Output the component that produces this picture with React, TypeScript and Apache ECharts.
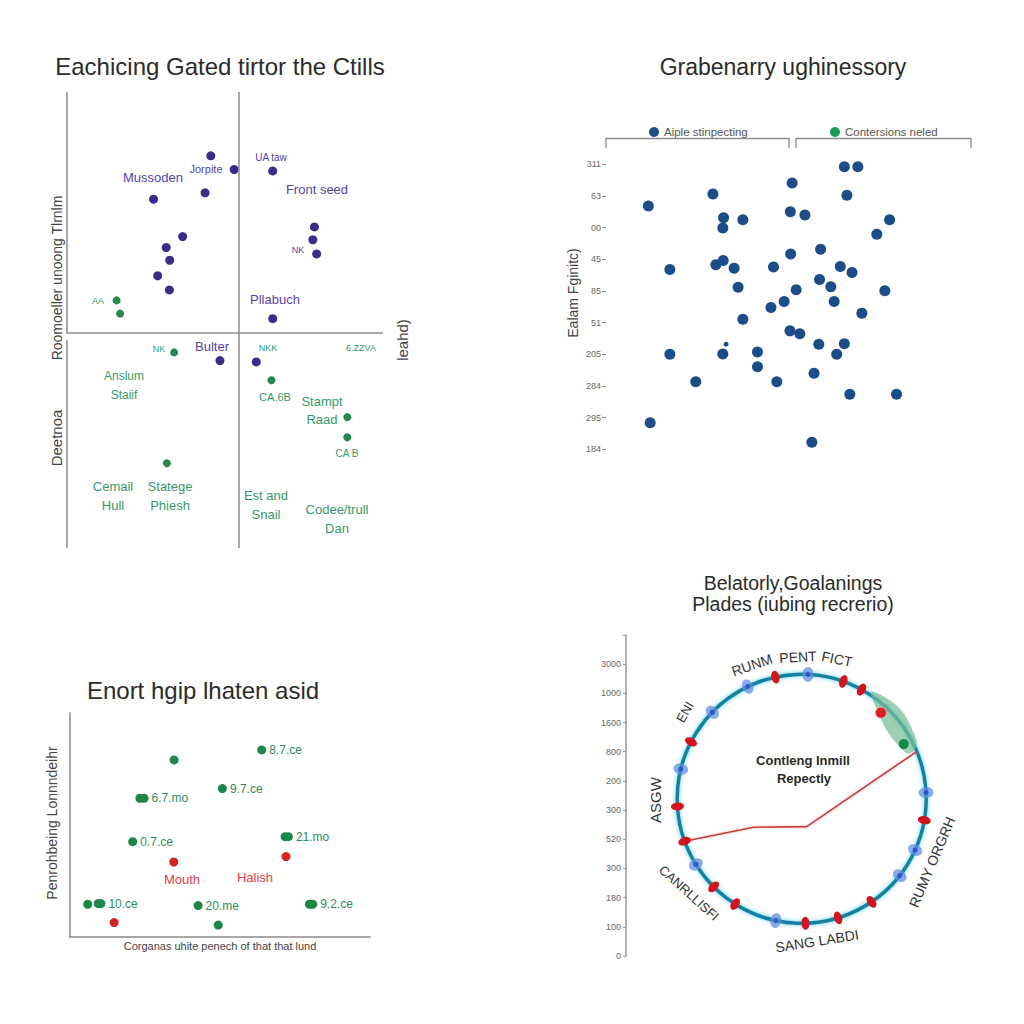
import React, { useEffect, useRef } from "react";
import * as echarts from "echarts";

const FONT = "'Liberation Sans', Arial, Helvetica, sans-serif";

// ---------- Panel 1 (top-left quadrant scatter) ----------
const P1_PURPLE: number[][] = [
  [45.5, 86.0], [52.9, 83.0], [65.1, 82.7], [43.7, 77.9], [27.4, 76.5],
  [36.6, 68.3], [31.4, 65.9], [32.5, 63.1], [28.7, 59.7], [32.4, 56.6],
  [78.3, 70.4], [77.8, 67.6], [79.0, 64.5], [65.1, 50.3], [48.4, 41.1], [59.9, 40.8],
];
const P1_GREEN: number[][] = [
  [15.7, 54.3], [16.8, 51.4], [33.9, 42.9], [64.7, 36.8], [88.7, 28.7], [88.7, 24.3], [31.6, 18.6],
];
const P1_QUAD_X = 54.4;
const P1_QUAD_Y = 47.1;
const P1_GAP_Y = 45.6;

// ---------- Panel 2 (top-right scatter) ----------
const P2_Y_LABELS = ["184", "295", "284", "205", "51", "85", "45", "00", "63", "311"];
const P2_POINTS: number[][] = [
  [11.6, 7.68], [29.3, 8.06], [32.2, 7.31], [32.0, 6.99], [37.5, 7.25], [51.0, 8.41], [65.3, 8.92],
  [69.0, 8.92], [66.0, 8.02], [50.5, 7.5], [54.5, 7.4], [77.7, 7.25], [74.2, 6.79],
  [17.5, 5.68], [30.1, 5.83], [32.1, 5.96], [35.1, 5.72], [45.9, 5.76], [50.6, 6.17], [58.8, 6.32],
  [64.2, 5.77], [67.4, 5.58], [36.2, 5.12], [52.1, 5.04], [58.5, 5.36], [61.6, 5.13], [76.4, 5.01],
  [48.8, 4.67], [45.2, 4.48], [62.5, 4.67], [37.5, 4.11], [70.1, 4.3], [50.4, 3.74], [53.1, 3.65],
  [17.5, 3.0], [32.0, 3.01], [41.5, 3.07], [41.5, 2.61], [58.3, 3.32], [65.3, 3.33], [63.2, 3.0],
  [24.6, 2.13], [46.8, 2.13], [57.0, 2.4], [66.8, 1.74], [79.6, 1.74], [12.1, 0.84], [56.4, 0.22],
];
const P2_SMALL: number[][] = [[32.9, 3.32]];
const P2_SERIES_A = "Aiple stinpecting";
const P2_SERIES_B = "Contersions neled";

// ---------- Panel 3 (bottom-left scatter) ----------
const P3_GREEN: { name: string; value: number[] }[] = [
  { name: "", value: [34.7, 79.0] },
  { name: "8.7.ce", value: [63.9, 83.5] },
  { name: "9.7.ce", value: [50.8, 66.2] },
  { name: "", value: [23.3, 61.9] },
  { name: "6.7.mo", value: [24.7, 61.9] },
  { name: "0.7.ce", value: [20.9, 42.5] },
  { name: "", value: [71.7, 44.7] },
  { name: "21.mo", value: [72.8, 44.7] },
  { name: "", value: [5.9, 14.5] },
  { name: "", value: [9.4, 14.8] },
  { name: "10.ce", value: [10.3, 14.8] },
  { name: "20.me", value: [42.7, 13.9] },
  { name: "", value: [79.8, 14.5] },
  { name: "9.2.ce", value: [80.9, 14.5] },
  { name: "", value: [49.4, 5.2] },
];
const P3_RED: number[][] = [[34.6, 33.4], [72.0, 35.8], [14.7, 6.3]];
const P3_MID_X = 49.2;

// ---------- Panel 4 (polar ring) ----------
const P4_Y_LABELS = ["0", "100", "180", "300", "520", "300", "200", "800", "1600", "1000", "3000", ""];
const P4_RED_ANGLES = [102.2, 70.5, 61.3, 152.8, 183.5, 199.9, 225, 237.7, 271.7, 287, 304.1, 350.1];
const P4_BLUE_ANGLES = [87.1, 115.7, 135.9, 166.2, 211.8, 258, 321.9, 335.7, 2.9];
const P4_BAND_OUTER: number[][] = [[1.03, 57], [1.06, 49], [1.07, 41], [1.05, 33], [1.02, 25]];
const P4_BAND_INNER: number[][] = [[0.93, 23], [0.88, 31], [0.88, 40], [0.93, 49], [1.0, 56]];
const P4_BAND_RED: number[][] = [[0.94, 47.4]];
const P4_BAND_GREEN: number[][] = [[1.03, 29.6], [0.93, 28.2]];
const P4_LINE: number[][] = [[1.0, 199.9], [0.45, 210.5], [0.227, 280.2], [1.03, 22.7]];

function txt(text: string, x: number, y: number, size: number, color: string, extra: any = {}) {
  return {
    type: "text",
    x,
    y,
    rotation: extra.rot ? (extra.rot * Math.PI) / 180 : 0,
    silent: true,
    z: 10,
    style: {
      text,
      fill: color,
      fontSize: size,
      fontFamily: FONT,
      fontWeight: extra.bold ? "bold" : "normal",
      textAlign: "center",
      textVerticalAlign: "middle",
      align: "center",
      verticalAlign: "middle",
      lineHeight: extra.lh,
    },
  };
}

function buildOption(): any {
  const PURPLE = "#3a2d8a";
  const PURPLE_T = "#5244a6";
  const GREEN1 = "#24884f";
  const GREEN_T = "#389868";
  const GRAY_LINE = "#8a8a8a";

  const hidden = { show: false };

  const p1Lines = {
    silent: true,
    symbol: ["none", "none"],
    label: { show: false },
    lineStyle: { color: GRAY_LINE, width: 1.5, type: "solid" },
    data: [
      [{ coord: [0, 100] }, { coord: [0, P1_QUAD_Y] }],
      [{ coord: [0, P1_GAP_Y] }, { coord: [0, 0] }],
      [{ coord: [0, P1_QUAD_Y] }, { coord: [100, P1_QUAD_Y] }],
      [{ coord: [P1_QUAD_X, 100] }, { coord: [P1_QUAD_X, 0] }],
    ],
  };

  const p3Lines = {
    silent: true,
    symbol: ["none", "none"],
    label: { show: false },
    lineStyle: { color: GRAY_LINE, width: 1.5, type: "solid" },
    data: [[{ coord: [P3_MID_X, 0] }, { coord: [P3_MID_X, 101] }]],
  };

  const graphics: any[] = [
    // titles
    txt("Eachicing Gated tirtor the Ctills", 220, 66, 24, "#2b2b2b"),
    txt("Grabenarry ughinessory", 783, 67, 23, "#2b2b2b"),
    txt("Enort hgip lhaten asid", 203, 690, 24, "#2b2b2b"),
    txt("Belatorly,Goalanings", 793, 583, 19.5, "#2b2b2b"),
    txt("Plades (iubing recrerio)", 793, 604, 19.5, "#2b2b2b"),
    // panel 1 axis names
    txt("Roomoeller unoong Tlrnlm", 57, 278, 14, "#444", { rot: 90 }),
    txt("Deetnoa", 56, 438, 15, "#444", { rot: 90 }),
    txt("leahd)", 402, 340, 15, "#444", { rot: 90 }),
    // panel 1 annotations
    txt("Mussoden", 153, 177, 13, PURPLE_T),
    txt("Jorpite", 206, 169, 11, PURPLE_T),
    txt("UA taw", 271, 157, 10, PURPLE_T),
    txt("Front seed", 317, 189, 13, PURPLE_T),
    txt("NK", 298, 250, 9, PURPLE_T),
    txt("Pllabuch", 275, 299, 13, PURPLE_T),
    txt("Bulter", 212, 346, 13, PURPLE_T),
    txt("AA", 98, 301, 9, GREEN_T),
    txt("NK", 159, 349, 9, GREEN_T),
    txt("NKK", 268, 348, 9, GREEN_T),
    txt("6.ZZVA", 361, 348, 9, GREEN_T),
    txt("Anslum\nStaiif", 124, 385, 12, GREEN_T, { lh: 19 }),
    txt("CA.6B", 275, 397, 11, GREEN_T),
    txt("Stampt\nRaad", 322, 410, 13, GREEN_T, { lh: 18 }),
    txt("CA B", 347, 453, 10, GREEN_T),
    txt("Cemail\nHull", 113, 496, 13, GREEN_T, { lh: 19 }),
    txt("Statege\nPhiesh", 170, 496, 13, GREEN_T, { lh: 19 }),
    txt("Est and\nSnail", 266, 505, 13, GREEN_T, { lh: 19 }),
    txt("Codee/trull\nDan", 337, 519, 13, GREEN_T, { lh: 19 }),
    // panel 2
    txt("Ealam Fginitc)", 573, 293, 14, "#444", { rot: 90 }),
    {
      type: "polyline",
      silent: true,
      shape: { points: [[606, 148], [606, 138.5], [789, 138.5], [789, 148]] },
      style: { stroke: "#8c8c8c", lineWidth: 1.3, fill: "none" },
    },
    {
      type: "polyline",
      silent: true,
      shape: { points: [[796, 148], [796, 138.5], [971, 138.5], [971, 148]] },
      style: { stroke: "#8c8c8c", lineWidth: 1.3, fill: "none" },
    },
    // panel 3
    txt("Penrohbeing Lonnndeihr", 52, 823, 14, "#444", { rot: 90 }),
    txt("Corganas uhite penech of that that lund", 220, 946, 11, "#444"),
    txt("Mouth", 182, 879, 13, "#d9413f"),
    txt("Halish", 255, 877, 13, "#d9413f"),
    // panel 4
    txt("RUNM", 752, 665, 14, "#333", { rot: 19 }),
    txt("PENT", 798, 657, 14, "#333", { rot: 3 }),
    txt("FICT", 837, 659, 14, "#333", { rot: -12 }),
    txt("ENI", 685, 712, 13, "#333", { rot: 60 }),
    txt("ASGW", 655, 800, 15, "#333", { rot: 90 }),
    txt("CANRLLISFI", 689, 893, 13, "#333", { rot: -42 }),
    txt("SANG LABDI", 817, 941, 14, "#333", { rot: 9 }),
    txt("RUMY ORGRH", 932, 862, 14, "#333", { rot: 67 }),
    txt("Contleng Inmill", 803, 760, 13, "#2a2a2a", { bold: true }),
    txt("Repectly", 804, 778, 13, "#2a2a2a", { bold: true }),
  ];

  const radialRot = (a: number) => a - 90;

  return {
    animation: false,
    backgroundColor: "#ffffff",
    textStyle: { fontFamily: FONT },
    grid: [
      { left: 67, top: 92, width: 316, height: 456, outerBoundsMode: "none", containLabel: false },
      { left: 606, top: 164.3, width: 365, height: 285, outerBoundsMode: "none", containLabel: false },
      { left: 70, top: 713, width: 300, height: 223.7, outerBoundsMode: "none", containLabel: false },
      { left: 626, top: 635, width: 2, height: 321, outerBoundsMode: "none", containLabel: false },
    ],
    xAxis: [
      { gridIndex: 0, type: "value", min: 0, max: 100, ...hidden },
      { gridIndex: 1, type: "value", min: 0, max: 100, ...hidden },
      {
        gridIndex: 2, type: "value", min: 0, max: 100,
        axisLine: { show: true, lineStyle: { color: GRAY_LINE, width: 1.5 } },
        axisTick: { show: false }, axisLabel: { show: false }, splitLine: { show: false },
      },
      { gridIndex: 3, type: "value", min: 0, max: 1, ...hidden },
    ],
    yAxis: [
      { gridIndex: 0, type: "value", min: 0, max: 100, ...hidden },
      {
        gridIndex: 1, type: "value", min: 0, max: 9, interval: 1,
        axisLine: { show: false },
        axisTick: { show: true, length: 4, lineStyle: { color: "#888" } },
        axisLabel: {
          show: true, fontSize: 9, color: "#666", margin: 5,
          formatter: (v: number) => P2_Y_LABELS[Math.round(v)] ?? "",
        },
        splitLine: { show: false },
      },
      {
        gridIndex: 2, type: "value", min: 0, max: 100,
        axisLine: { show: true, lineStyle: { color: GRAY_LINE, width: 1.5 } },
        axisTick: { show: false }, axisLabel: { show: false }, splitLine: { show: false },
      },
      {
        gridIndex: 3, type: "value", min: 0, max: 11, interval: 1,
        axisLine: { show: true, lineStyle: { color: "#999", width: 1.5 } },
        axisTick: { show: true, length: 3, lineStyle: { color: "#999" } },
        axisLabel: {
          show: true, fontSize: 9, color: "#666", margin: 5,
          formatter: (v: number) => P4_Y_LABELS[Math.round(v)] ?? "",
        },
        splitLine: { show: false },
      },
    ],
    polar: { center: [801.7, 798.8], radius: 124.5 },
    angleAxis: {
      type: "value", min: 0, max: 360, startAngle: 0, clockwise: false,
      axisLine: {
        show: true,
        lineStyle: { color: "#15819f", width: 3.5, shadowBlur: 4, shadowColor: "rgba(70,205,235,0.95)" },
      },
      axisTick: { show: false }, axisLabel: { show: false }, splitLine: { show: false },
    },
    radiusAxis: { type: "value", min: 0, max: 1, show: false },
    legend: [
      {
        data: [P2_SERIES_A], left: 644, top: 121, icon: "circle", itemWidth: 10, itemHeight: 10,
        itemGap: 5, textStyle: { fontSize: 11.5, color: "#555", fontFamily: FONT }, selectedMode: false,
      },
      {
        data: [P2_SERIES_B], left: 825, top: 121, icon: "circle", itemWidth: 10, itemHeight: 10,
        itemGap: 5, textStyle: { fontSize: 11.5, color: "#555", fontFamily: FONT }, selectedMode: false,
      },
    ],
    graphic: graphics,
    series: [
      {
        type: "scatter", xAxisIndex: 0, yAxisIndex: 0, data: P1_PURPLE, symbolSize: 9,
        itemStyle: { color: PURPLE, opacity: 1 }, markLine: p1Lines, z: 3,
      },
      {
        type: "scatter", xAxisIndex: 0, yAxisIndex: 0, data: P1_GREEN, symbolSize: 8,
        itemStyle: { color: GREEN1, opacity: 1 }, z: 3,
      },
      {
        name: P2_SERIES_A, type: "scatter", xAxisIndex: 1, yAxisIndex: 1, data: P2_POINTS, symbolSize: 11,
        itemStyle: { color: "#1c4d86", opacity: 1 },
      },
      {
        type: "scatter", xAxisIndex: 1, yAxisIndex: 1, data: P2_SMALL, symbolSize: 5,
        itemStyle: { color: "#1c4d86", opacity: 1 },
      },
      {
        name: P2_SERIES_B, type: "scatter", xAxisIndex: 1, yAxisIndex: 1, data: [],
        itemStyle: { color: "#1f9a58", opacity: 1 },
      },
      {
        type: "scatter", xAxisIndex: 2, yAxisIndex: 2, data: P3_GREEN, symbolSize: 9,
        itemStyle: { color: "#1b874a", opacity: 1 },
        label: {
          show: true, position: "right", distance: 3, formatter: (p: any) => p.name,
          color: "#2e8b5e", fontSize: 12, fontFamily: FONT,
        },
        markLine: p3Lines,
      },
      {
        type: "scatter", xAxisIndex: 2, yAxisIndex: 2, data: P3_RED, symbolSize: 9,
        itemStyle: { color: "#d42424", opacity: 1 },
      },
      // panel 4
      {
        type: "custom", coordinateSystem: "polar", data: [[1, 40]], z: 3, silent: true,
        renderItem: (_p: any, api: any) => {
          const pts = P4_BAND_OUTER.concat(P4_BAND_INNER).map((d) => api.coord([d[0], d[1]]));
          return {
            type: "polygon",
            shape: { points: pts, smooth: 0.35 },
            style: { fill: "rgba(118,190,152,0.72)" },
          };
        },
      },
      {
        type: "line", coordinateSystem: "polar", data: P4_LINE, showSymbol: false, symbol: "none", z: 4,
        lineStyle: { color: "#c83a3a", width: 1.6, shadowBlur: 2, shadowColor: "rgba(240,150,150,0.8)" },
      },
      {
        type: "scatter", coordinateSystem: "polar", z: 5,
        data: P4_BLUE_ANGLES.map((a) => ({ value: [1, a], symbolRotate: radialRot(a) })),
        symbol: "circle", symbolSize: [11, 15], itemStyle: { color: "rgba(95,140,225,0.72)", opacity: 1 },
      },
      {
        type: "scatter", coordinateSystem: "polar", z: 6,
        data: P4_BLUE_ANGLES.map((a) => [1, a]),
        symbolSize: 5, itemStyle: { color: "#2c58c0", opacity: 1 },
      },
      {
        type: "scatter", coordinateSystem: "polar", z: 6,
        data: P4_RED_ANGLES.map((a) => ({ value: [1, a], symbolRotate: radialRot(a) })),
        symbol: "circle", symbolSize: [8, 13], itemStyle: { color: "#d3141c", opacity: 1 },
      },
      {
        type: "scatter", coordinateSystem: "polar", z: 7, data: P4_BAND_RED, symbolSize: 11,
        itemStyle: { color: "#d81f26", borderColor: "#f3b0b0", borderWidth: 1, opacity: 1 },
      },
      {
        type: "scatter", coordinateSystem: "polar", z: 7, data: P4_BAND_GREEN, symbolSize: 10,
        itemStyle: { color: "#18894a", opacity: 1 },
      },
    ],
  };
}

export default function App() {
  const ref = useRef<HTMLDivElement>(null);
  useEffect(() => {
    if (!ref.current) return;
    const chart = echarts.init(ref.current, null, { renderer: "svg" });
    chart.setOption(buildOption());
    return () => chart.dispose();
  }, []);
  return (
    <div
      ref={ref}
      style={{ position: "absolute", left: 0, top: 0, width: 1024, height: 1024, background: "#fff" }}
    />
  );
}
